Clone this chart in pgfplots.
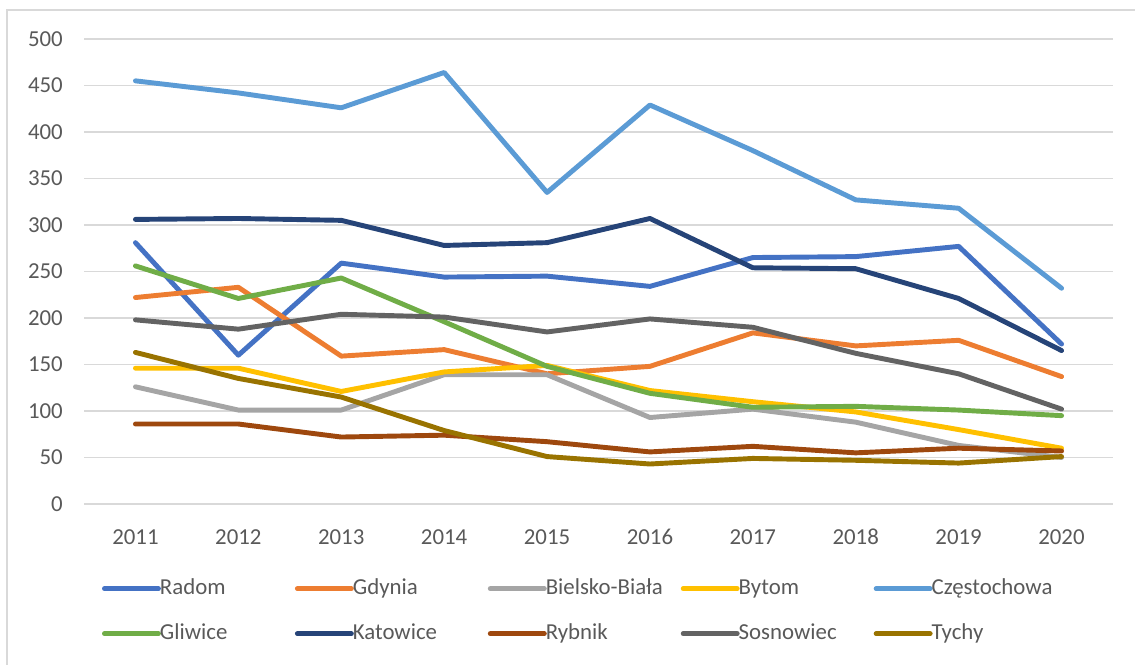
\documentclass[border=0pt]{standalone}
\usepackage{fontspec}
\setmainfont{Carlito}
\usepackage{pgfplots}
\pgfplotsset{compat=1.18}

\definecolor{cRadom}{HTML}{4472C4}
\definecolor{cGdynia}{HTML}{ED7D31}
\definecolor{cBielsko}{HTML}{A5A5A5}
\definecolor{cBytom}{HTML}{FFC000}
\definecolor{cCzest}{HTML}{5B9BD5}
\definecolor{cGliwice}{HTML}{70AD47}
\definecolor{cKatowice}{HTML}{264478}
\definecolor{cRybnik}{HTML}{9E480E}
\definecolor{cSosnowiec}{HTML}{636363}
\definecolor{cTychy}{HTML}{997300}
\definecolor{txt}{HTML}{595959}
\definecolor{gridc}{HTML}{D9D9D9}

\newcommand{\lentry}[1]{\makebox[2.7cm][l]{#1}}

\begin{document}
\begin{tikzpicture}
\useasboundingbox (0,0) rectangle (22.7,13.28);
\draw[gridc, line width=0.8pt] (0.14,-1) rectangle (24,13.08);
\begin{axis}[
    at={(1.68cm,3.2cm)}, anchor=south west,
    scale only axis,
    width=20.58cm, height=9.3cm,
    xmin=2010.5, xmax=2020.5,
    ymin=0, ymax=500,
    xtick={2011,...,2020},
    ytick={0,50,...,500},
    x tick label style={/pgf/number format/1000 sep={}},
    /pgf/number format/assume math mode=true,
    ymajorgrids,
    grid style={gridc, line width=0.9pt},
    axis line style={draw=none},
    major tick length=0pt,
    tick label style={font=\fontsize{13}{15}\selectfont, text=txt},
    yticklabel style={xshift=-0.3cm},
    xticklabel style={yshift=-0.38cm, text height=0.3cm},
    every axis plot/.append style={line width=2.8pt, line cap=round, line join=round},
    legend columns=5,
    legend style={at={(axis description cs:0,0)}, anchor=north west,
        xshift=0.36cm, yshift=-1.48cm,
        draw=none, fill=none, inner sep=0pt, outer sep=0pt,
        font=\fontsize{13}{15}\selectfont, text=txt,
        row sep=0.47cm,
        nodes={inner sep=0pt, text height=0.33cm, text depth=0.1cm},
        /tikz/every odd column/.append style={column sep=-0.02cm}},
    legend cell align=left,
    legend image code/.code={\draw[#1, line cap=round] (0cm,0cm) -- (1.08cm,0cm);},
]
\addplot[cRadom] coordinates {(2011,281) (2012,160) (2013,259) (2014,244) (2015,245) (2016,234) (2017,265) (2018,266) (2019,277) (2020,172)};
\addplot[cGdynia] coordinates {(2011,222) (2012,233) (2013,159) (2014,166) (2015,140) (2016,148) (2017,184) (2018,170) (2019,176) (2020,137)};
\addplot[cBielsko] coordinates {(2011,126) (2012,101) (2013,101) (2014,139) (2015,139) (2016,93) (2017,102) (2018,88) (2019,63) (2020,50)};
\addplot[cBytom] coordinates {(2011,146) (2012,146) (2013,121) (2014,142) (2015,149) (2016,122) (2017,110) (2018,99) (2019,80) (2020,60)};
\addplot[cCzest] coordinates {(2011,455) (2012,442) (2013,426) (2014,464) (2015,335) (2016,429) (2017,380) (2018,327) (2019,318) (2020,232)};
\addplot[cGliwice] coordinates {(2011,256) (2012,221) (2013,243) (2014,196) (2015,148) (2016,119) (2017,104) (2018,105) (2019,101) (2020,95)};
\addplot[cKatowice] coordinates {(2011,306) (2012,307) (2013,305) (2014,278) (2015,281) (2016,307) (2017,254) (2018,253) (2019,221) (2020,165)};
\addplot[cRybnik] coordinates {(2011,86) (2012,86) (2013,72) (2014,74) (2015,67) (2016,56) (2017,62) (2018,55) (2019,60) (2020,57)};
\addplot[cSosnowiec] coordinates {(2011,198) (2012,188) (2013,204) (2014,201) (2015,185) (2016,199) (2017,190) (2018,162) (2019,140) (2020,102)};
\addplot[cTychy] coordinates {(2011,163) (2012,135) (2013,115) (2014,79) (2015,51) (2016,43) (2017,49) (2018,47) (2019,44) (2020,51)};
\legend{\lentry{Radom}, \lentry{Gdynia}, \lentry{Bielsko-Biała}, \lentry{Bytom}, \lentry{Częstochowa},
        \lentry{Gliwice}, \lentry{Katowice}, \lentry{Rybnik}, \lentry{Sosnowiec}, \lentry{Tychy}}
\end{axis}
\end{tikzpicture}
\end{document}
